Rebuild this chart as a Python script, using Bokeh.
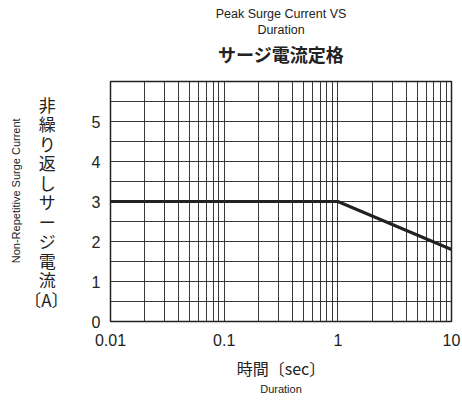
from bokeh.plotting import figure
from bokeh.models import FixedTicker, Range1d, Title, LinearAxis, LogAxis
from bokeh.embed import file_html
from bokeh.resources import INLINE

# data
duration = [0.01, 1, 10]
surge_current = [3.0, 3.0, 1.8]
x_ticks = [0.01, 0.1, 1, 10]
x_tick_labels = ["0.01", "0.1", "1", "10"]
y_ticks = [0, 1, 2, 3, 4, 5]
y_grid = [0.5, 1, 1.5, 2, 2.5, 3, 3.5, 4, 4.5, 5, 5.5]
x_grid = [m * d for d in [0.01, 0.1, 1] for m in range(1, 10)][1:]
y_chars = ["非", "繰", "り", "返", "し", "サ", "ー", "ジ", "電", "流"]
y_unit = "〔A〕"
title_en = ["Peak Surge Current VS", "Duration"]
title_jp = "サージ電流定格"
x_label_jp = "時間〔sec〕"
x_label_en = "Duration"
y_label_en = "Non-Repetitive Surge Current"

W, H = 462, 401
BL, BR, BT, BB = 110, 11, 81, 80
INK = "#222222"
p = figure(width=W, height=H, x_axis_type="log", output_backend="svg",
           toolbar_location=None, x_range=Range1d(0.01, 10), y_range=Range1d(0, 6),
           min_border_left=BL, min_border_right=BR, min_border_top=BT, min_border_bottom=BB)
p.outline_line_color = INK
p.outline_line_width = 1.5
p.background_fill_color = "white"
p.border_fill_color = "white"

# titles: p.title is outermost; later "above" layouts stack outward from the frame
p.title.text = title_en[0]
p.title.text_font = "Liberation Sans"
p.title.text_font_size = "12.5px"
p.title.text_font_style = "normal"
p.title.text_color = INK
p.title.align = "center"
p.title.standoff = 0
p.title.offset = 0
# small spacer between the frame and the Japanese title
p.add_layout(Title(text="\u00a0", align="center", text_font="Liberation Sans",
                   text_font_size="1px", text_color="white", standoff=10), "above")
p.add_layout(Title(text=title_jp, align="center", text_font="Noto Sans CJK JP",
                   text_font_size="18px", text_font_style="bold",
                   text_color=INK, standoff=4), "above")
p.add_layout(Title(text=title_en[1], align="center", text_font="Liberation Sans",
                   text_font_size="12.5px", text_font_style="normal",
                   text_color=INK, standoff=0), "above")

for ax in (p.xaxis[0], p.yaxis[0]):
    ax.axis_line_color = None
    ax.major_tick_line_color = None
    ax.minor_tick_line_color = None
    ax.major_tick_out = 0
    ax.major_tick_in = 0
    ax.minor_tick_out = 0
    ax.minor_tick_in = 0
    ax.major_label_text_font = "Liberation Sans"
    ax.major_label_text_font_size = "16px"
    ax.major_label_text_color = INK
    ax.axis_label_text_color = INK
    ax.axis_label_text_font_style = "normal"

p.xaxis[0].ticker = FixedTicker(ticks=x_ticks)
p.xaxis[0].major_label_overrides = {t: l for t, l in zip(x_ticks, x_tick_labels)}
p.xaxis[0].major_label_standoff = 12
p.xaxis[0].axis_label = x_label_jp
p.xaxis[0].axis_label_text_font = "Noto Sans CJK JP"
p.xaxis[0].axis_label_text_font_size = "16px"
p.xaxis[0].axis_label_standoff = 7

# vertical stacked Japanese label; lines are right-aligned, so pad the single
# characters on the right to centre them over the wider unit line
pad = "\u2002\u2005"
p.yaxis[0].ticker = FixedTicker(ticks=y_ticks)
p.yaxis[0].major_label_standoff = 10
p.yaxis[0].axis_label = "\n".join([c + pad for c in y_chars] + [y_unit])
p.yaxis[0].axis_label_orientation = "horizontal"
p.yaxis[0].axis_label_text_font = "Noto Sans CJK JP"
p.yaxis[0].axis_label_text_font_size = "17px"
p.yaxis[0].axis_label_text_line_height = 0.78
p.yaxis[0].axis_label_standoff = 20

# outer axes carrying the English labels
common = dict(ticker=FixedTicker(ticks=[]), axis_label_text_font="Liberation Sans",
              axis_label_text_font_size="11px", axis_label_text_font_style="normal",
              axis_label_text_color=INK, axis_line_color=None, major_tick_line_color=None,
              minor_tick_line_color=None, major_tick_out=0, major_tick_in=0,
              minor_tick_out=0, minor_tick_in=0, major_label_standoff=0)
ax2 = LogAxis(axis_label=x_label_en, axis_label_standoff=0, **common)
p.add_layout(ax2, "below")
ay2 = LinearAxis(axis_label="\u00a0" * 7 + y_label_en, axis_label_standoff=0, **common)
p.add_layout(ay2, "left")

p.xgrid.ticker = FixedTicker(ticks=x_grid)
p.ygrid.ticker = FixedTicker(ticks=y_grid)
for g in (p.xgrid[0], p.ygrid[0]):
    g.grid_line_color = INK
    g.grid_line_width = 1
    g.grid_line_alpha = 0.9

p.line(duration, surge_current, line_color=INK, line_width=3)

open("out.html", "w").write(file_html(p, INLINE))
